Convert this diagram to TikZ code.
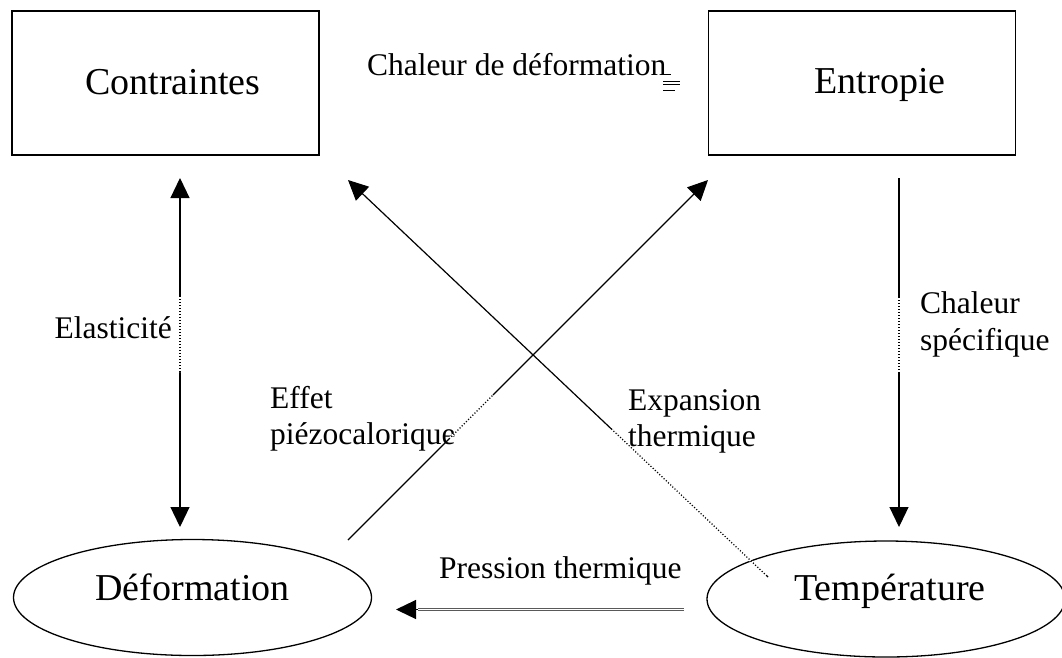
\documentclass[tikz,border=0pt]{standalone}
\usepackage{fontspec}
\setmainfont{Liberation Serif}
\usetikzlibrary{arrows.meta,shapes.geometric}
\begin{document}
\begin{tikzpicture}[x=1pt,y=-1pt,
  boxnode/.style={draw,line width=1.6pt,inner sep=0pt,minimum width=307pt,minimum height=144pt},
  ovalnode/.style={ellipse,draw,line width=1.3pt,inner sep=0pt,minimum width=358pt,minimum height=116pt},
  bigtext/.style={font=\fontsize{38}{45}\selectfont,inner sep=0pt},
  smalltext/.style={font=\fontsize{31.5}{37}\selectfont,inner sep=0pt},
  conn/.style={line width=1.2pt},
  gapdots/.style={draw=white,line width=2.4pt,dash pattern=on 1.6pt off 1.4pt},
  tri/.tip={Triangle[length=20pt,width=19pt]}
]
\useasboundingbox (0,0) rectangle (1062,657);
% boxes
\node[boxnode] (C) at (165.5,83) {};
\node[bigtext,anchor=base] (Ct) at (173,94) {Contraintes};
\node[boxnode] (E) at (862,83) {};
\node[bigtext,anchor=base] (Et) at (880,93) {Entropie};
% ellipses
\node[ovalnode] (D) at (192.5,597.5) {};
\node[bigtext,anchor=base] (Dt) at (192.5,600) {Déformation};
\node[ovalnode] (T) at (886,599) {};
\node[bigtext,anchor=base] (Tt) at (890,600) {Température};
% labels
\node[smalltext,anchor=base west] (l1) at (367,75) {Chaleur de déformation};
\node[smalltext,anchor=base east] (l2) at (172,338) {Elasticité};
\node[smalltext,anchor=base west] (l3a) at (920,313) {Chaleur};
\node[smalltext,anchor=base west] (l3b) at (920,350) {spécifique};
\node[smalltext,anchor=base west] (l4a) at (270,408) {Effet};
\node[smalltext,anchor=base west] (l4b) at (270,444) {piézocalorique};
\node[smalltext,anchor=base west] (l5a) at (628,410) {Expansion};
\node[smalltext,anchor=base west] (l5b) at (628,446) {thermique};
\node[smalltext,anchor=base west] (l6) at (439,578) {Pression thermique};
% connector end points
\coordinate (ea) at (180,178);
\coordinate (eb) at (180,527);
\coordinate (sa) at (899,178);
\coordinate (sb) at (899,527);
\coordinate (xa) at (768,577);
\coordinate (xb) at (348,180);
\coordinate (fa) at (348,540);
\coordinate (fb) at (708,180);
\coordinate (pa) at (684,609.5);
\coordinate (pm) at (418,609.5);
\coordinate (pb) at (396,609.5);
% connectors
\draw[conn,tri-tri] (ea) -- (eb);
\draw[conn,-tri] (sa) -- (sb);
\draw[conn,-tri] (xa) -- (xb);
\draw[conn,-tri] (fa) -- (fb);
\draw[line width=0.6pt,draw=black!65,double=white,double distance=1.5pt] (pa) -- (pm);
\draw[conn,-tri] (pm) -- (pb);
% dotted look where text boxes overlap the lines
\draw[gapdots] (180,297) -- (180,372);
\draw[gapdots] (899,298) -- (899,372);
\draw[gapdots] (450,438) -- (493,395);
\draw[gapdots] (612,430) -- (766,575);
\draw[gapdots] (707,28) -- (707,132);
% small marks after the label
\draw[line width=0.6pt] (663,74) -- (671,74);
\draw[line width=0.6pt] (663,81) -- (680,81);
\draw[line width=0.6pt] (663,84.5) -- (680,84.5);
\draw[line width=0.6pt] (663,90) -- (675,90);
\end{tikzpicture}
\end{document}
